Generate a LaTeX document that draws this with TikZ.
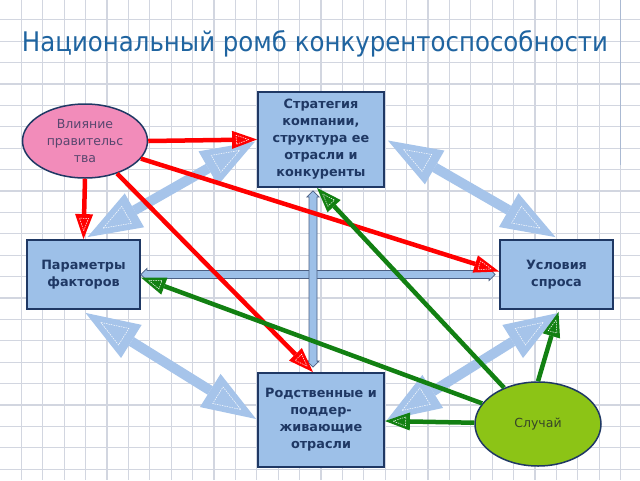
\documentclass[tikz,border=0pt]{standalone}
\usepackage{fontspec}
\setmainfont{DejaVu Sans}
\usetikzlibrary{calc,shapes.geometric}
\definecolor{titleblue}{RGB}{31,100,160}
\definecolor{boxfill}{RGB}{157,192,232}
\definecolor{navy}{RGB}{31,56,100}
\definecolor{pinkfill}{RGB}{242,140,186}
\definecolor{limefill}{RGB}{140,196,22}
\definecolor{arrred}{RGB}{255,0,0}
\definecolor{arrgreen}{RGB}{18,128,18}
\definecolor{arrblue}{RGB}{166,196,234}
\definecolor{gridc}{RGB}{210,214,224}
\definecolor{margc}{RGB}{170,185,210}
\definecolor{govtext}{RGB}{88,70,110}
\definecolor{casetext}{RGB}{55,70,40}

% head: tip, base centre, colour, half width
\newcommand\arrhead[4]{%
  \coordinate (ah-l) at ($(#2)!#4!90:(#1)$);
  \coordinate (ah-r) at ($(#2)!#4!-90:(#1)$);
  \fill[#3] (#1) -- (ah-l) -- (ah-r) -- cycle;
  \coordinate (ah-c) at (barycentric cs:#1=1,ah-l=1,ah-r=1);
  \draw[white, line width=0.5pt, dash pattern=on 1.5pt off 1pt]
    ($(ah-c)!0.5!(#1)$) -- ($(ah-c)!0.5!(ah-l)$) -- ($(ah-c)!0.5!(ah-r)$) -- cycle;
}
% single arrow: start (node/coord), tip coord, colour, line width, head length, half width
\newcommand\onearr[6]{%
  \coordinate (fa-t) at (#2);
  \coordinate (fa-b) at ($(fa-t)!#5!(#1)$);
  \draw[#3, line width=#4] (#1) -- (fa-b);
  \arrhead{fa-t}{fa-b}{#3}{#6}
}
% double blue arrow between two coords
\newcommand\dblarr[2]{%
  \coordinate (da-a) at (#1);
  \coordinate (da-b) at (#2);
  \coordinate (da-a2) at ($(da-a)!54pt!(da-b)$);
  \coordinate (da-b2) at ($(da-b)!54pt!(da-a)$);
  \draw[arrblue, line width=10pt] (da-a2) -- (da-b2);
  \arrhead{da-a}{da-a2}{arrblue}{19.5pt}
  \arrhead{da-b}{da-b2}{arrblue}{19.5pt}
}

\tikzset{
  boxnode/.style={draw=navy, line width=1.8pt, fill=boxfill, align=center,
    font=\fontsize{12.8}{17}\selectfont\bfseries, text=navy, inner sep=0pt},
  ellnode/.style={ellipse, draw=navy, line width=1.5pt, align=center, inner sep=0pt,
    font=\fontsize{12.5}{17}\selectfont},
  barstyle/.style={draw=navy!80, line width=0.8pt, fill=boxfill},
}

\begin{document}
\begin{tikzpicture}[x=1pt,y=-1pt]
\useasboundingbox (0,0) rectangle (640,480);
\fill[white] (0,0) rectangle (640,480);
% grid
\foreach \k in {1,...,29} \draw[gridc, line width=1.2pt] (21.4*\k,0) -- (21.4*\k,480);
\foreach \n in {0,...,21} \draw[gridc, line width=1.2pt] (0,19.8+21.4*\n) -- (640,19.8+21.4*\n);
\draw[margc, line width=1.2pt] (620.6,0) -- (620.6,165);

% title
\node[text=titleblue, inner sep=0pt] (title) at (315,44)
  {\resizebox{586pt}{\height}{\fontsize{27}{32}\selectfont Национальный ромб конкурентоспособности}};

% nodes
\node[boxnode, minimum width=126pt, minimum height=95pt] (strat) at (321,139.5)
  {Стратегия\\компании,\\структура ее\\отрасли и\\конкуренты};
\node[boxnode, minimum width=113pt, minimum height=69pt] (par) at (83.5,274.5)
  {Параметры\\факторов};
\node[boxnode, minimum width=113pt, minimum height=69pt] (cond) at (556.5,274.5)
  {Условия\\спроса};
\node[boxnode, minimum width=126pt, minimum height=94pt] (rel) at (321,420)
  {Родственные и\\поддер-\\живающие\\отрасли};
\node[ellnode, fill=pinkfill, text=govtext, minimum width=125pt, minimum height=74pt] (gov) at (85,141)
  {Влияние\\правительс\\тва};
\node[ellnode, fill=limefill, text=casetext, minimum width=126pt, minimum height=84pt] (case) at (538,424)
  {Случай};

% blue double arrows
\coordinate (b1a) at ($(par.north)+(4,-2)$);
\coordinate (b1b) at ($(strat.west)+(-2,2)$);
\dblarr{b1a}{b1b}
\coordinate (b2a) at ($(strat.east)+(3,1)$);
\coordinate (b2b) at ($(cond.north)+(-1,-2)$);
\dblarr{b2a}{b2b}
\coordinate (b3a) at ($(par.south)+(2,3)$);
\coordinate (b3b) at ($(rel.west)+(-1,-1)$);
\dblarr{b3a}{b3b}
\coordinate (b4a) at ($(rel.east)+(2,0)$);
\coordinate (b4b) at ($(cond.south)+(2,3)$);
\dblarr{b4a}{b4b}

% cross bars
\coordinate (hl) at (par.east);
\coordinate (hr) at ($(cond.west)+(-4,0)$);
\draw[barstyle] (hl) -- ++(6,-6) -- ++(0,2) -- ($(hr)+(-6,-4)$) -- ++(0,-2) -- (hr)
  -- ++(-6,6) -- ++(0,-2) -- ($(hl)+(6,4)$) -- ++(0,2) -- cycle;
\coordinate (vt) at ($(strat.south)+(-8,3)$);
\coordinate (vb) at ($(rel.north)+(-8,-5)$);
\draw[barstyle] (vt) -- ++(-6,6) -- ++(2,0) -- ($(vb)+(-4,-6)$) -- ++(-2,0) -- (vb)
  -- ++(6,-6) -- ++(-2,0) -- ($(vt)+(4,6)$) -- ++(2,0) -- cycle;

% red arrows
\coordinate (r1t) at (strat.west);
\onearr{gov.east}{r1t}{arrred}{4.5pt}{25pt}{9pt}
\coordinate (r2t) at (par.north);
\onearr{gov.south}{r2t}{arrred}{4.5pt}{25pt}{9pt}
\coordinate (r3t) at ($(cond.west)+(0,-3)$);
\onearr{gov}{r3t}{arrred}{4.5pt}{25pt}{9pt}
\coordinate (r4t) at ($(rel.north)+(-8,0)$);
\onearr{gov}{r4t}{arrred}{4.5pt}{25pt}{9pt}

% green arrows
\coordinate (g1t) at ($(strat.south)+(-4,0)$);
\onearr{case}{g1t}{arrgreen}{4.5pt}{25pt}{9pt}
\coordinate (g2t) at ($(par.east)+(0,3)$);
\onearr{case}{g2t}{arrgreen}{4.5pt}{25pt}{9pt}
\coordinate (g3t) at ($(rel.east)+(0,1)$);
\onearr{case}{g3t}{arrgreen}{4.5pt}{25pt}{9pt}
\coordinate (g4t) at ($(cond.south)+(2,2)$);
\onearr{case.north}{g4t}{arrgreen}{4.5pt}{25pt}{9pt}
\end{tikzpicture}
\end{document}
